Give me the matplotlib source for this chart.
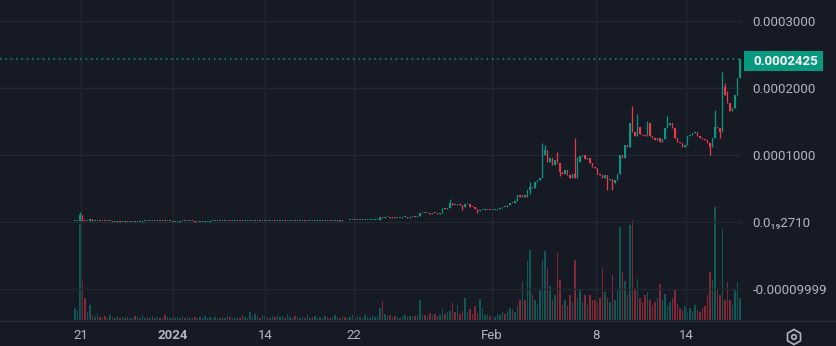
import numpy as np
import matplotlib
matplotlib.use("Agg")
import matplotlib.pyplot as plt
from matplotlib.patches import RegularPolygon, Circle, Rectangle

plt.rcParams['font.family'] = ['Roboto', 'DejaVu Sans']

# prices in millionths (1e-6), one entry per candle
close = [
    1.0, 1.5, 10, 2, 1.5, 1.5, 4.5, 1.5, 1.5, 1.6,
    1.5, 1.6, 1.5, 1.2, 1.5, 0.3, 0.4, 1.5, 0.3, 0.3,
    0.4, 0.3, 0.3, 0.4, 0.3, 0.3, 0.3, 1.5, 1.6, 1.5,
    1.5, 1.4, 1.5, 1.6, 1.5, 1.5, 1.4, 1.5, 1.5, 0.3,
    0.3, 0.4, 1.5, 1.6, 1.5, 1.5, 1.6, 1.5, 0.3, 0.3,
    0.4, 0.3, 0.3, 0.3, 1.5, 1.5, 1.6, 1.5, 1.5, 1.4,
    1.5, 1.6, 1.5, 1.5, 1.5, 1.6, 1.5, 1.4, 1.5, 1.5,
    1.6, 1.5, 1.5, 1.5, 1.4, 1.5, 1.6, 1.5, 1.5, 1.6,
    1.5, 1.5, 1.6, 1.7, 1.6, 1.7, 1.7, 1.8, 1.7, 1.8,
    1.8, 1.9, 1.8, 1.9, 2.0, 1.9, 2.0, 2.0, 2.1, 2.0,
    2.1, 2.2, 2.1, 2.2, 2.2, 2.3, 2.2, 2.4, 2.3, 2.5,
    2.5, 2.6, 2.5, 2.7, 2.8, 2.7, 2.9, 3.0, 3.0, 3.0,
    3.0, 3.0, 7, 6, 7, 7, 6, 7, 5.5, 5.5,
    5.5, 7, 7, 6.5, 7, 7.5, 7, 9, 13, 14,
    13, 14, 12, 14, 13, 12, 13, 21, 19, 21,
    29, 26, 25, 27, 26, 22, 27, 27, 23, 22,
    20, 17, 18, 18, 18, 18.5, 18, 18, 18.5, 20,
    21, 23, 22, 25, 29, 28, 31, 40, 37, 40,
    38, 48, 52, 50, 60, 62, 66, 100, 108, 90,
    95, 85, 92, 88, 75, 72, 77, 70, 65, 72,
    66, 90, 98, 100, 94, 96, 88, 82, 80, 72,
    70, 66, 70, 62, 64, 58, 62, 72, 100, 96,
    115, 112, 148, 135, 128, 142, 132, 130, 128, 148,
    128, 126, 122, 125, 120, 124, 140, 145, 148, 140,
    125, 120, 118, 112, 115, 128, 130, 133, 134, 128,
    126, 124, 122, 118, 112, 125, 142, 140, 134, 201,
    190, 178, 165, 170, 190, 215, 242.5,
]
first_open = 1.0
# visible wicks (candle index -> price)
wick_high = {2: 15, 6: 5, 150: 34, 182: 60, 187: 118, 188: 115, 193: 104,
             200: 125, 201: 97, 223: 173, 225: 161, 229: 150, 237: 158,
             256: 167, 259: 224, 260: 207, 261: 195}
wick_low = {2: 1.0, 155: 18, 161: 13, 182: 42, 194: 68, 213: 48, 215: 48,
            254: 100, 258: 125}

volume = [
    12, 10, 95, 39, 22, 8, 15, 5, 3, 6,
    3, 2, 4, 2, 5, 3, 2, 4, 2, 3,
    2, 3, 2, 2, 4, 3, 2, 5, 2, 3,
    2, 4, 2, 3, 2, 2, 5, 3, 2, 3,
    2, 3, 2, 4, 2, 3, 2, 2, 3, 2,
    3, 2, 4, 2, 3, 2, 3, 2, 2, 3,
    2, 4, 3, 2, 2, 3, 2, 5, 3, 2,
    8, 3, 6, 4, 2, 5, 4, 3, 2, 4,
    3, 5, 3, 4, 2, 6, 3, 2, 4, 3,
    2, 3, 2, 5, 2, 3, 4, 2, 3, 2,
    4, 3, 2, 3, 5, 3, 2, 4, 3, 2,
    3, 5, 2, 4, 3, 2, 5, 3, 2, 4,
    3, 4, 12, 19, 6, 4, 5, 3, 4, 3,
    2, 4, 5, 3, 4, 3, 4, 5, 20, 6,
    5, 4, 7, 5, 6, 4, 5, 11, 6, 8,
    9, 17, 8, 15, 6, 9, 22, 8, 11, 6,
    14, 7, 21, 12, 5, 6, 4, 5, 3, 6,
    5, 8, 6, 9, 12, 11, 8, 15, 20, 38,
    20, 58, 69, 25, 20, 15, 30, 59, 68, 52,
    34, 20, 25, 66, 40, 15, 20, 14, 25, 18,
    59, 22, 30, 18, 25, 15, 25, 20, 20, 17,
    22, 52, 28, 22, 18, 45, 20, 30, 92, 48,
    39, 25, 94, 99, 30, 41, 22, 18, 25, 28,
    20, 15, 18, 22, 36, 20, 26, 14, 18, 22,
    30, 16, 12, 10, 14, 8, 12, 9, 15, 10,
    8, 12, 14, 25, 48, 40, 112, 30, 25, 90,
    20, 38, 20, 15, 31, 38, 22,
]

price_ticks = [300, 200, 100, 0, -100]
price_labels = ["0.0003000", "0.0002000", "0.0001000", "0.0\u2081\u20892710", "-0.00009999"]
date_pos = [2.4, 39.2, 76, 111.6, 166.8, 208.4, 244.4]
date_labels = ["21", "2024", "14", "22", "Feb", "8", "14"]
last_price = 242.5
last_label = "0.0002425"

BG = "#161a25"
GRID = "#232733"
TXT = "#b2b5be"
UP = "#089981"
DOWN = "#f23645"

close = np.array(close, dtype=float)
opens = np.concatenate([[first_open], close[:-1]])
x = np.arange(len(close))
hi = np.maximum(opens, close)
lo = np.minimum(opens, close)
for k, v in wick_high.items():
    hi[k] = max(hi[k], v)
for k, v in wick_low.items():
    lo[k] = min(lo[k], v)
up = close >= opens
cols = np.where(up, UP, DOWN)

W, H = 837, 346
fig = plt.figure(figsize=(W / 100, H / 100), dpi=100, facecolor=BG)
ax = fig.add_axes([0, 26 / H, 742 / W, 320 / H])
ax2 = ax.twinx()
ax.set_zorder(2)
ax.patch.set_visible(False)
ax2.set_zorder(1)
ax2.set_facecolor(BG)

# volume overlay
ax2.bar(x, volume, width=0.7, color=cols, alpha=0.5, linewidth=0)
ax2.set_ylim(0, max(volume) * 320 / 113)
ax2.set_yticks([])
for s in ax2.spines.values():
    s.set_visible(False)

# candles
ax.vlines(x, lo, hi, colors=cols, linewidth=0.9, zorder=3)
body = np.maximum(hi * 0 + np.abs(close - opens), 1.3)
ax.bar(x, body, bottom=lo * 0 + np.minimum(opens, close), width=0.7, color=cols,
       linewidth=0, zorder=4)

ax.set_xlim(-30, 266.8)
ax.set_ylim(-146.3, 331.3)

for p in price_ticks:
    ax.axhline(p, color=GRID, linewidth=1, zorder=0)
for d in date_pos:
    ax.axvline(d, color=GRID, linewidth=1, zorder=0)

ax.axhline(last_price, color=UP, linewidth=1.1, linestyle=(0, (1, 2.5)), zorder=5)

ax.yaxis.tick_right()
ax.set_yticks(price_ticks, price_labels)
ax.tick_params(axis='y', length=0, pad=7.5, labelsize=9.5, labelcolor=TXT)
ax.set_xticks(date_pos, date_labels)
ax.tick_params(axis='x', length=0, pad=6.5, labelsize=9.5, labelcolor=TXT)
ax.get_xticklabels()[1].set_fontweight('bold')
for s in ax.spines.values():
    s.set_visible(False)

# overlay in pixel coords for the price tag, frame line and settings icon
ov = fig.add_axes([0, 0, 1, 1])
ov.set_xlim(0, W)
ov.set_ylim(H, 0)
ov.axis('off')
ov.patch.set_visible(False)
ov.axhline(320.5, color="#2a2e39", linewidth=1)
ov.add_patch(Rectangle((744, 51), 79, 20, facecolor=UP, edgecolor='none'))
ov.text(753, 61.5, last_label, color='white', fontsize=9.5, fontweight='bold',
        ha='left', va='center')
ov.add_patch(RegularPolygon((794, 337), numVertices=6, radius=7.5, orientation=0,
                            facecolor='none', edgecolor=TXT, linewidth=1.2))
ov.add_patch(Circle((794, 337), 2.3, facecolor='none', edgecolor=TXT, linewidth=1.2))

fig.savefig("out.png", dpi=100, facecolor=BG)
